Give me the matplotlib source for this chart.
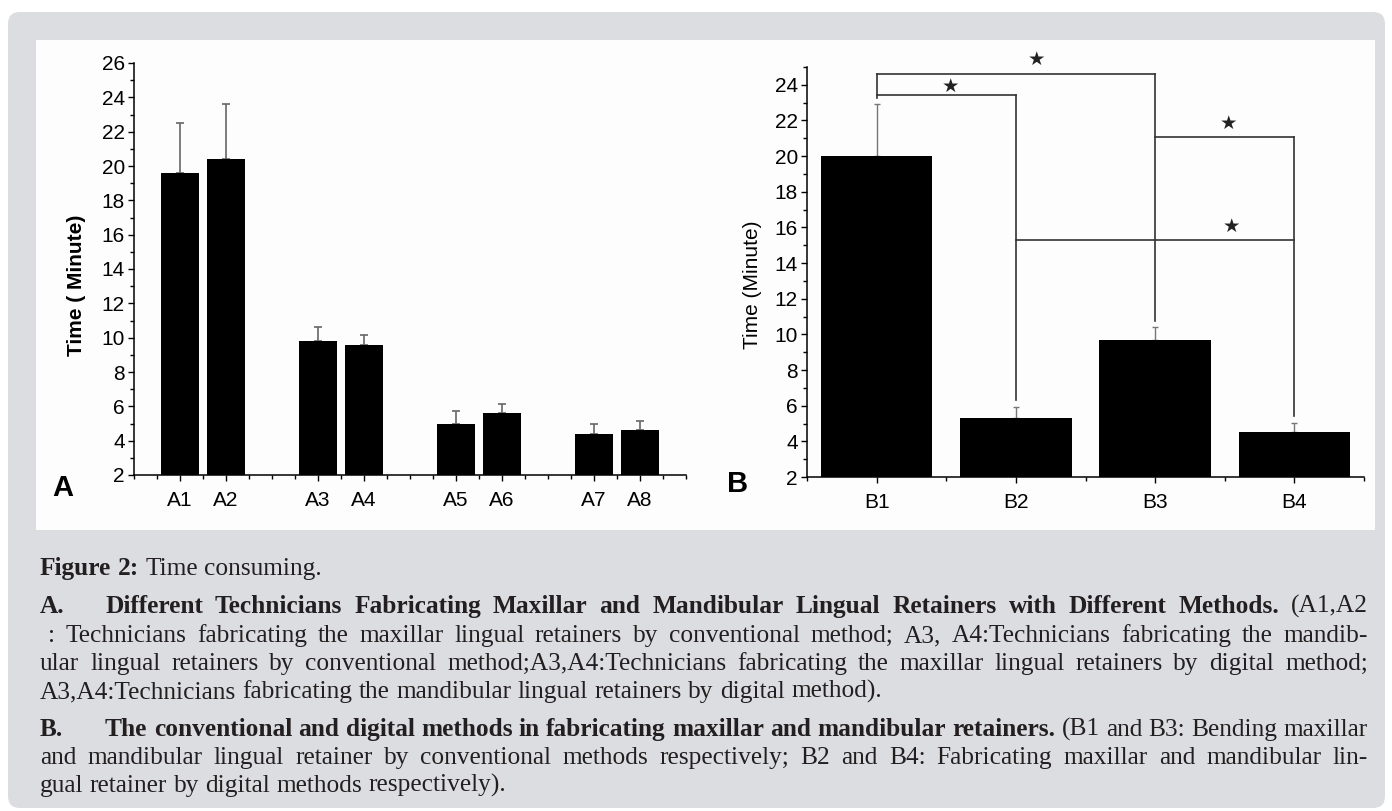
import matplotlib
matplotlib.use("Agg")
import matplotlib.pyplot as plt
from matplotlib.patches import FancyBboxPatch, Rectangle
from matplotlib.ticker import FixedLocator, MultipleLocator

plt.rcParams['font.family'] = ['Liberation Sans', 'DejaVu Sans']

# panel A: technicians, conventional vs digital
a_labels = ["A1", "A2", "A3", "A4", "A5", "A6", "A7", "A8"]
a_pos = [1, 2, 4, 5, 7, 8, 10, 11]
a_mean = [19.6, 20.4, 9.8, 9.6, 5.0, 5.6, 4.4, 4.6]
a_err = [2.9, 3.2, 0.85, 0.55, 0.7, 0.55, 0.55, 0.55]

# panel B: methods
b_labels = ["B1", "B2", "B3", "B4"]
b_mean = [20.0, 5.3, 9.7, 4.5]
b_err = [2.9, 0.65, 0.7, 0.55]

# significance brackets (left bar, right bar, height), star x and lift
b_pairs = [(1, 3, 24.6), (1, 2, 23.45), (3, 4, 21.1), (2, 4, 15.3)]
b_star_x = [2.15, 1.53, 3.53, 3.55]
b_star_dy = [0.8, 0.45, 0.72, 0.73]

W, H = 1392, 811
fig = plt.figure(figsize=(W / 100, H / 100), dpi=100)
fig.patch.set_facecolor('white')

bg = fig.add_axes([0, 0, 1, 1], zorder=-1)
bg.set_xlim(0, W)
bg.set_ylim(H, 0)
bg.axis('off')
bg.add_patch(FancyBboxPatch((8, 12), 1377, 796,
                            boxstyle="round,pad=0,rounding_size=12",
                            fc='#dcdde0', ec='none'))
bg.add_patch(Rectangle((36, 40), 1339, 490, fc='#fdfdfd', ec='none'))


def style_axis(ax):
    ax.set_facecolor('none')
    for s in ['top', 'right']:
        ax.spines[s].set_visible(False)
    for s in ['left', 'bottom']:
        ax.spines[s].set_linewidth(1.1)
    ax.tick_params(which='major', direction='out', length=4.5, width=1,
                   labelsize=15, pad=2)
    ax.tick_params(axis='x', which='major', pad=7)
    ax.tick_params(which='minor', direction='out', length=2.8, width=1)
    ax.yaxis.set_major_locator(MultipleLocator(2))
    ax.yaxis.set_minor_locator(MultipleLocator(1))


# ---- panel A
axA = fig.add_axes([134 / W, 1 - 475 / H, (686 - 134) / W, (475 - 63) / H])
axA.bar(a_pos, a_mean, width=0.82, color='black', zorder=2)
axA.errorbar(a_pos, a_mean, yerr=[[0] * len(a_err), a_err], fmt='none',
             ecolor='#666666', elinewidth=1.2, capsize=3, capthick=1.2, zorder=1)
axA.set_ylim(2, 26)
axA.set_xlim(0, 12)
axA.xaxis.set_major_locator(FixedLocator(a_pos))
axA.set_xticklabels(a_labels)
axA.xaxis.set_minor_locator(MultipleLocator(0.5))
style_axis(axA)
axA.set_ylabel("Time ( Minute)", fontsize=15, fontweight='bold')
axA.yaxis.set_label_coords(-0.087, 0.46)

# ---- panel B
axB = fig.add_axes([807 / W, 1 - 477 / H, (1364 - 807) / W, (477 - 67) / H])
bx = [1, 2, 3, 4]
axB.bar(bx, b_mean, width=0.8, color='black', zorder=2)
axB.errorbar(bx, b_mean, yerr=[[0] * len(b_err), b_err], fmt='none',
             ecolor='#777777', elinewidth=1.0, capsize=2.5, capthick=1.0, zorder=1)
axB.set_ylim(2, 25)
axB.set_xlim(0.5, 4.5)
axB.xaxis.set_major_locator(FixedLocator(bx))
axB.set_xticklabels(b_labels)
axB.xaxis.set_minor_locator(MultipleLocator(0.5))
style_axis(axB)
axB.set_ylabel("Time (Minute)", fontsize=15)
axB.yaxis.set_label_coords(-0.080, 0.47)

# brackets
tops = {}
for l, r, h in b_pairs:
    axB.plot([l, r], [h, h], color='#333333', lw=1.2, zorder=3)
    tops[l] = max(tops.get(l, 0), h)
    tops[r] = max(tops.get(r, 0), h)
for i, top in tops.items():
    bottom = b_mean[i - 1] + b_err[i - 1] + 0.35
    axB.plot([i, i], [bottom, top], color='#333333', lw=1.2, zorder=3)
for (l, r, h), sx, dy in zip(b_pairs, b_star_x, b_star_dy):
    axB.text(sx, h + dy, "\u2605", ha='center', va='center', fontsize=14,
             color='#222222', family='DejaVu Sans')

# panel letters
bg.text(63, 488, "A", fontsize=21, fontweight='bold', ha='center', va='center')
bg.text(738, 484, "B", fontsize=21, fontweight='bold', ha='center', va='center')

# ---- caption, justified word by word
renderer = fig.canvas.get_renderer()
serif = ['Liberation Serif', 'DejaVu Serif']
ink = '#231f20'
csize = 18.3


def put_line(segs, y, x0, x1=None):
    items = []
    for txt, bold in segs:
        for w in txt.split():
            items.append(bg.text(0, y, w, fontsize=csize, family=serif, color=ink,
                                 fontweight='bold' if bold else 'normal',
                                 va='baseline', ha='left'))
    widths = [t.get_window_extent(renderer).width for t in items]
    if x1 is None or len(items) < 2:
        a = bg.text(0, 0, "n n", fontsize=csize, family=serif)
        b = bg.text(0, 0, "nn", fontsize=csize, family=serif)
        gap = a.get_window_extent(renderer).width - b.get_window_extent(renderer).width
        a.remove()
        b.remove()
    else:
        gap = (x1 - x0 - sum(widths)) / (len(items) - 1)
    x = x0
    for t, w in zip(items, widths):
        t.set_x(x)
        x += w + gap


R = 1368
put_line([("Figure 2:", True), ("Time consuming.", False)], 575, 40)

put_line([("A.", True)], 613, 40)
put_line([("Different Technicians Fabricating Maxillar and Mandibular Lingual "
           "Retainers with Different Methods.", True), ("(A1,A2", False)], 613, 105, R)
put_line([(": Technicians fabricating the maxillar lingual retainers by conventional "
           "method; A3, A4:Technicians fabricating the mandib-", False)], 642, 48, R)
put_line([("ular lingual retainers by conventional method;A3,A4:Technicians "
           "fabricating the maxillar lingual retainers by digital method;", False)], 670, 40, R)
put_line([("A3,A4:Technicians fabricating the mandibular lingual retainers by "
           "digital method).", False)], 698, 40)

put_line([("B.", True)], 736, 40)
put_line([("The conventional and digital methods in fabricating maxillar and "
           "mandibular retainers.", True), ("(B1 and B3: Bending maxillar", False)], 736, 105, R)
put_line([("and mandibular lingual retainer by conventional methods respectively; "
           "B2 and B4: Fabricating maxillar and mandibular lin-", False)], 764, 40, R)
put_line([("gual retainer by digital methods respectively).", False)], 792, 40)

fig.savefig("out.png", dpi=100)
